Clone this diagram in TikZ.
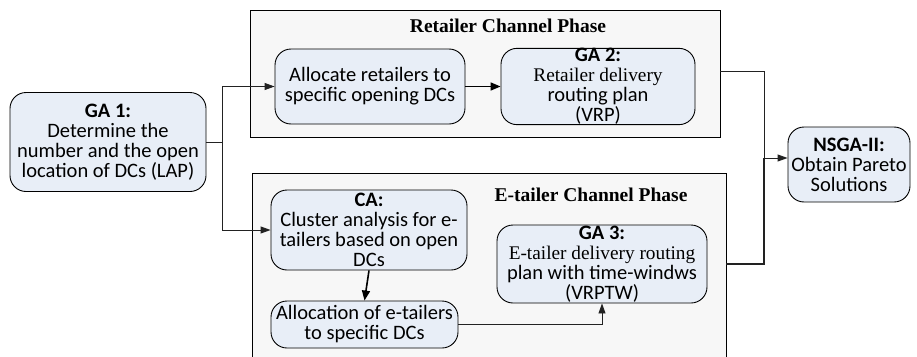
\documentclass[tikz,border=0pt]{standalone}
\usepackage{fontspec}
\setmainfont{Liberation Serif}
\newfontfamily\calfont{Carlito}
\usetikzlibrary{arrows.meta}
\definecolor{nodefill}{HTML}{E8EEF7}
\definecolor{panelfill}{HTML}{F7F7F7}
\definecolor{linecol}{HTML}{222222}
\newcommand{\serifpart}{\rmfamily\fontsize{19.3}{16}\selectfont}
\tikzset{
  panel/.style={draw=black, line width=0.9pt, fill=panelfill, rectangle, inner sep=0pt},
  proc/.style={draw=black, line width=0.9pt, fill=nodefill, rounded corners=16pt, align=center, inner sep=0pt, font=\calfont\fontsize{20.5}{20}\selectfont},
  title/.style={font=\rmfamily\bfseries\fontsize{19.5}{20}\selectfont, inner sep=0pt},
  conn/.style={draw=linecol, line width=0.9pt},
  arr/.style={conn, -{Triangle[length=10pt,width=7pt]}},
  tarr/.style={draw=black, line width=1.6pt, -{Triangle[length=10pt,width=8pt]}},
}
\begin{document}
\begin{tikzpicture}[x=1pt,y=-1pt]
\useasboundingbox (0,0) rectangle (917,356);
\clip (0,0) rectangle (917,356);
% panels
\node[panel, minimum width=470pt, minimum height=127pt] (retpanel) at (485,73.5) {};
\node[panel, minimum width=474pt, minimum height=200pt] (epanel) at (489,273) {};
\node[title] (rettitle) at (508,26) {Retailer Channel Phase};
\node[title] (etitle) at (591,195) {E-tailer Channel Phase};
% nodes
\node[proc, minimum width=196pt, minimum height=99pt] (ga1) at (108,142)
  {\textbf{GA 1:}\\Determine the\\number and the open\\location of DCs (LAP)};
\node[proc, minimum width=190pt, minimum height=75pt] (alloc) at (370,86.5)
  {Allocate retailers to\\specific opening DCs};
\node[proc, minimum width=194pt, minimum height=75pt] (ga2) at (598,86.5)
  {\textbf{GA 2:}\\\serifpart Retailer delivery\\routing plan\\(VRP)};
\node[proc, minimum width=122pt, minimum height=75pt] (nsga) at (849,164.5)
  {\textbf{NSGA-II:}\\Obtain Pareto\\Solutions};
\node[proc, minimum width=196pt, minimum height=80pt] (ca) at (369,230)
  {\textbf{CA:}\\Cluster analysis for e-\\tailers based on open\\DCs};
\node[proc, minimum width=187pt, minimum height=47pt] (alloc2) at (364.5,324.5)
  {Allocation of e-tailers\\to specific DCs};
\node[proc, minimum width=210pt, minimum height=78pt] (ga3) at (602,264)
  {\textbf{GA 3:}\\\serifpart E-tailer delivery routing\\plan with time-windws\\(VRPTW)};
% connectors
\coordinate (split) at (222,142);
\coordinate (rout) at (720,71);
\coordinate (eout) at (726,264);
\coordinate (join) at (764,158);
\draw[conn] (ga1.east) -- (split);
\draw[arr] (split) |- (alloc.west);
\draw[arr] (split) |- (ca.west);
\draw[tarr] (alloc.east) -- (ga2.west);
\draw[tarr] (ca.south) -- (alloc2.north);
\draw[arr] (alloc2.east) -| (ga3.south);
\draw[conn] (rout) -| (join);
\draw[conn, line width=1.4pt] (eout) -| (join);
\draw[arr] (join) -- (join -| nsga.west);
\end{tikzpicture}
\end{document}
